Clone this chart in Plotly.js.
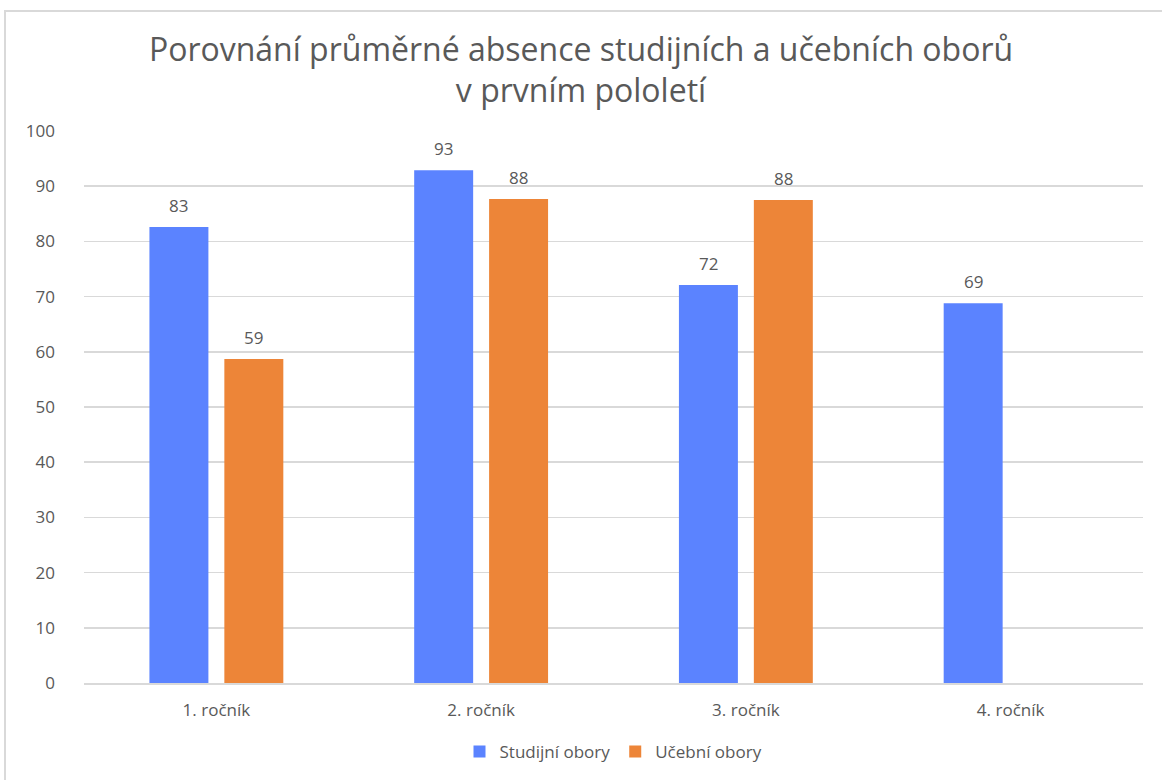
<!DOCTYPE html>
<html>
<head>
<meta charset="utf-8">
<script src="https://cdn.plot.ly/plotly-3.0.1.min.js"></script>
<style>
html,body{margin:0;padding:0;background:#fff;overflow:hidden;}
#chart{width:1162px;height:780px;position:absolute;left:0;top:0;}
#frame{position:absolute;left:4px;top:10px;width:1170px;height:780px;border-top:2px solid #D9D9D9;border-left:2px solid #D9D9D9;pointer-events:none;}
</style>
</head>
<body>
<div id="chart"></div>
<div id="frame"></div>
<script>
const categories = ["1. ročník", "2. ročník", "3. ročník", "4. ročník"];
const studijni = [82.6, 92.9, 72.1, 68.8];
const ucebni = [58.7, 87.7, 87.5, null];
const seriesNames = ["Studijní obory", "Učební obory"];
const yTicks = [0, 10, 20, 30, 40, 50, 60, 70, 80, 90, 100];

const font = "Open Sans, Liberation Sans, sans-serif";
const textColor = "#595959";

const traces = [
  {type: "bar", name: seriesNames[0], x: categories, y: studijni, offsetgroup: "a",
   marker: {color: "#5B83FF"}},
  {type: "bar", name: seriesNames[1], x: categories, y: ucebni, offsetgroup: "b",
   marker: {color: "#ED8538"}}
];

const annotations = [];
const series = [studijni, ucebni];
series.forEach((vals, si) => {
  vals.forEach((v, i) => {
    if (v === null) return;
    annotations.push({
      x: categories[i], y: v, xref: "x", yref: "y",
      text: String(Math.round(v)), showarrow: false,
      yanchor: "bottom", yshift: 8, xshift: si === 0 ? -37.5 : 37.5,
      font: {size: 17, color: textColor, family: font}
    });
  });
});

const layout = {
  width: 1162, height: 780,
  margin: {l: 84, r: 19, t: 131, b: 97},
  paper_bgcolor: "#fff", plot_bgcolor: "#fff",
  font: {family: font, color: textColor, size: 17},
  title: {text: "Porovnání průměrné absence studijních a učebních oborů<br>v prvním pololetí",
          font: {size: 32, color: textColor, family: font}, x: 0.5, xanchor: "center",
          yref: "container", y: 0.922, yanchor: "top"},
  barmode: "group", bargap: 0.434, bargroupgap: 0.213,
  xaxis: {type: "category", showgrid: false, showline: true, linecolor: "#D9D9D9", linewidth: 2,
          ticks: "", tickfont: {size: 17, color: textColor}, ticklabelstandoff: 11},
  yaxis: {range: [0, 100], tickvals: yTicks, showgrid: true, gridcolor: "#D9D9D9", gridwidth: 1.5,
          zeroline: false, showline: false, ticks: "", tickfont: {size: 17, color: textColor}, ticklabelstandoff: 28},
  showlegend: true,
  legend: {orientation: "h", x: 0.5, xanchor: "center", yref: "container", y: 0.036, yanchor: "middle",
           font: {size: 17, color: textColor}, traceorder: "normal"},
  annotations: annotations
};

Plotly.newPlot("chart", traces, layout, {displayModeBar: false, staticPlot: true});
</script>
</body>
</html>
